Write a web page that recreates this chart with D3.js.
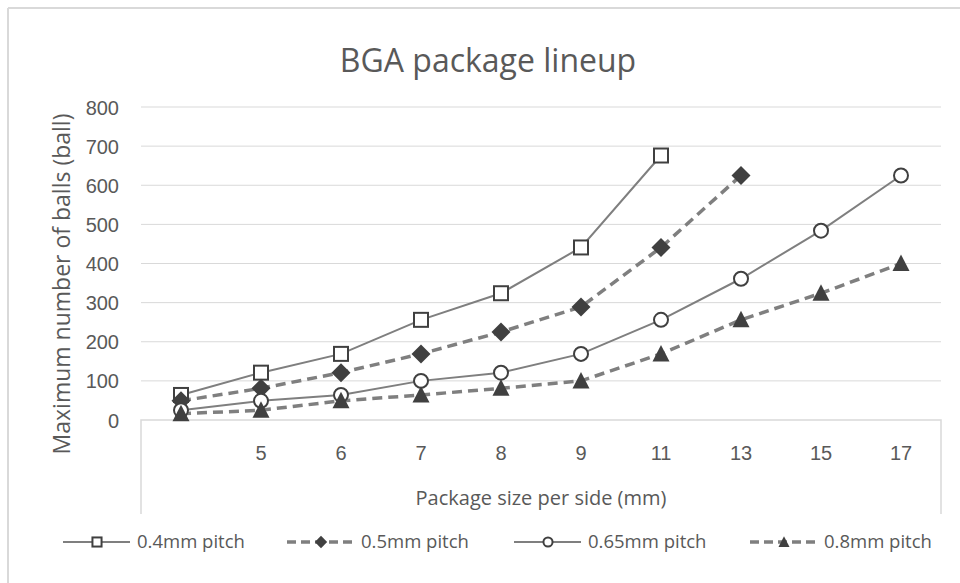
<!DOCTYPE html>
<html><head><meta charset="utf-8">
<script src="https://cdn.jsdelivr.net/npm/d3@7"></script>
<style>body{margin:0;background:#fff}svg{display:block;font-family:"Open Sans","Noto Sans",sans-serif}</style>
</head><body><svg id="c" width="960" height="583"></svg>
<script>
const categories = ["", "5", "6", "7", "8", "9", "11", "13", "15", "17"];
const pitch04 = [64, 121, 169, 256, 324, 441, 676, null, null, null];
const pitch05 = [49, 81, 121, 169, 225, 289, 441, 625, null, null];
const pitch065 = [25, 49, 64, 100, 121, 169, 256, 361, 484, 625];
const pitch08 = [16, 25, 49, 64, 81, 100, 169, 256, 324, 400];
const seriesNames = ["0.4mm pitch", "0.5mm pitch", "0.65mm pitch", "0.8mm pitch"];
const yTicks = [0, 100, 200, 300, 400, 500, 600, 700, 800];

const series = [
  {name: seriesNames[0], values: pitch04, dashed: false, marker: "square"},
  {name: seriesNames[1], values: pitch05, dashed: true, marker: "diamond"},
  {name: seriesNames[2], values: pitch065, dashed: false, marker: "circle"},
  {name: seriesNames[3], values: pitch08, dashed: true, marker: "triangle"}
];

const svg = d3.select("#c");
const L = 141, R = 941, T = 107, B = 420;
const x = d3.scaleBand().domain(d3.range(categories.length)).range([L, R]);
const y = d3.scaleLinear().domain([0, 800]).range([B, T]);
const txt = "#595959", grid = "#d9d9d9";

// outer border (top/left visible)
svg.append("line").attr("x1", 8).attr("x2", 960).attr("y1", 8).attr("y2", 8).attr("stroke", grid).attr("stroke-width", 2);
svg.append("line").attr("x1", 8).attr("x2", 8).attr("y1", 8).attr("y2", 583).attr("stroke", grid).attr("stroke-width", 2);

svg.append("text").attr("x", 488).attr("y", 72).attr("text-anchor", "middle")
  .attr("font-size", 32).attr("fill", txt).text("BGA package lineup");

// gridlines
svg.append("g").selectAll("line").data(yTicks.filter(d => d > 0)).join("line")
  .attr("x1", L).attr("x2", R).attr("y1", d => y(d)).attr("y2", d => y(d))
  .attr("stroke", grid).attr("stroke-width", 1);

// y axis labels
const yAxis = d3.axisLeft(y).tickValues(yTicks).tickSize(0).tickPadding(22);
const gy = svg.append("g").attr("transform", `translate(${L},0)`).call(yAxis);
gy.select(".domain").remove();
gy.selectAll("text").attr("font-size", 20).attr("fill", txt).attr("font-family", null).attr("dy", "0.35em");

// x axis box
const BB = 514;
svg.append("path").attr("d", `M${L},${BB}V${B}H${R}V${BB}`).attr("fill", "none").attr("stroke", grid).attr("stroke-width", 1.5);
const xAxis = d3.axisBottom(x).tickFormat(i => categories[i]).tickSize(0).tickPadding(0);
const gx = svg.append("g").attr("transform", `translate(0,${B})`).call(xAxis);
gx.select(".domain").remove();
gx.selectAll("text").attr("font-size", 20).attr("fill", txt).attr("font-family", null).attr("y", 40).attr("dy", 0);

svg.append("text").attr("x", 541).attr("y", 505).attr("text-anchor", "middle")
  .attr("font-size", 20).attr("fill", txt).text("Package size per side (mm)");
svg.append("text").attr("transform", "translate(70,284) rotate(-90)").attr("text-anchor", "middle")
  .attr("font-size", 23).attr("fill", txt).text("Maximum number of balls (ball)");

const lineColor = "#7f7f7f", markColor = "#404040";
const line = d3.line().defined(d => d != null).x((d, i) => x(i) + x.bandwidth() / 2).y(d => y(d));

function drawMarker(g, type, cx, cy, s) {
  if (type === "square") {
    g.append("rect").attr("x", cx - 7 * s).attr("y", cy - 7 * s).attr("width", 14 * s).attr("height", 14 * s)
      .attr("fill", "#fff").attr("stroke", markColor).attr("stroke-width", 2);
  } else if (type === "diamond") {
    g.append("path").attr("d", `M${cx},${cy - 9.5 * s}L${cx + 9.5 * s},${cy}L${cx},${cy + 9.5 * s}L${cx - 9.5 * s},${cy}Z`)
      .attr("fill", markColor);
  } else if (type === "circle") {
    g.append("circle").attr("cx", cx).attr("cy", cy).attr("r", 7 * s)
      .attr("fill", "#fff").attr("stroke", markColor).attr("stroke-width", 2);
  } else {
    g.append("path").attr("d", `M${cx},${cy - 9 * s}L${cx + 8.5 * s},${cy + 7.5 * s}L${cx - 8.5 * s},${cy + 7.5 * s}Z`)
      .attr("fill", markColor);
  }
}

series.forEach(s => {
  svg.append("path").attr("d", line(s.values)).attr("fill", "none").attr("stroke", lineColor)
    .attr("stroke-width", s.dashed ? 3.5 : 2).attr("stroke-dasharray", s.dashed ? "10,6" : null);
});
series.forEach(s => {
  const g = svg.append("g");
  s.values.forEach((v, i) => { if (v != null) drawMarker(g, s.marker, x(i) + x.bandwidth() / 2, y(v), 1); });
});

// legend
const legX = [63, 287, 514, 750];
const legY = 542;
series.forEach((s, i) => {
  const g = svg.append("g");
  const x0 = legX[i];
  g.append("line").attr("x1", x0).attr("x2", x0 + 67).attr("y1", legY).attr("y2", legY)
    .attr("stroke", lineColor).attr("stroke-width", s.dashed ? 3.5 : 2).attr("stroke-dasharray", s.dashed ? "9,5" : null);
  drawMarker(g, s.marker, x0 + 34, legY, 0.65);
  g.append("text").attr("x", x0 + 74).attr("y", legY).attr("dy", "0.35em").attr("font-size", 18.5)
    .attr("fill", txt).text(s.name);
});
</script></body></html>
